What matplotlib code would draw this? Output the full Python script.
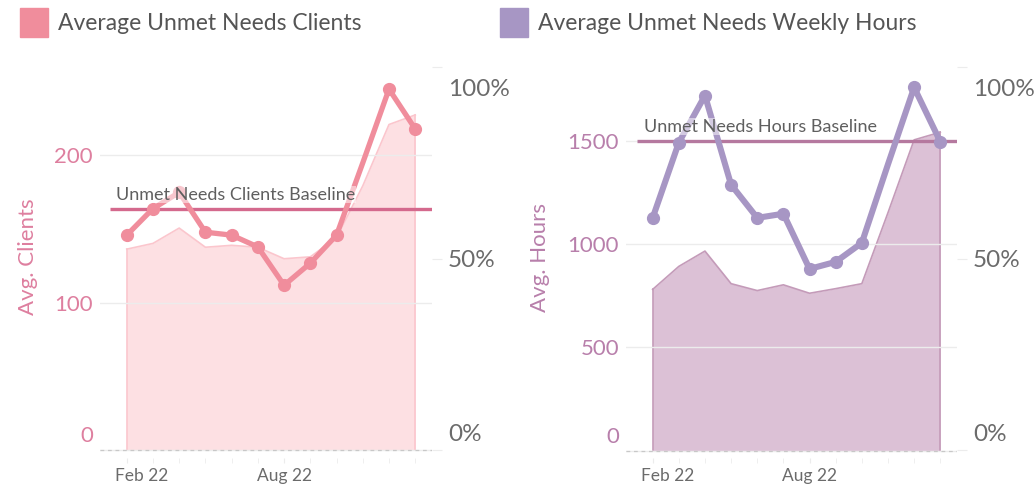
import matplotlib
matplotlib.use("Agg")
import matplotlib.pyplot as plt
import matplotlib.transforms as mtransforms

plt.rcParams['font.family'] = ['Lato', 'DejaVu Sans']

# monthly data, Feb 22 .. Jan 23
months = ['Feb 22', 'Mar 22', 'Apr 22', 'May 22', 'Jun 22', 'Jul 22',
          'Aug 22', 'Sep 22', 'Oct 22', 'Nov 22', 'Dec 22', 'Jan 23']
avg_clients = [146, 164, 175, 148, 146, 138, 112, 127, 146, 195, 245, 218]
clients_pct = [52.5, 54, 58, 53, 53.5, 53, 50, 50.5, 55.5, 69, 85, 87.5]
clients_baseline = 164

avg_hours = [1126, 1490, 1718, 1286, 1126, 1146, 879, 913, 1005, 1385, 1757, 1495]
hours_pct = [42, 48, 52, 43.5, 41.7, 43.2, 41, 42.2, 43.5, 62, 81, 83]
hours_baseline = 1500

W, H = 1036, 492
fig = plt.figure(figsize=(W / 100, H / 100), dpi=100)
fig.patch.set_facecolor('white')

grey = '#6b6b6b'
grid_c = '#ececec'


def px_axes(x0, x1, y0, y1):
    return fig.add_axes([x0 / W, 1 - y1 / H, (x1 - x0) / W, (y1 - y0) / H])


def shift(lbl, dx, dy):
    lbl.set_transform(lbl.get_transform() +
                      mtransforms.ScaledTranslation(dx / 100, dy / 100, fig.dpi_scale_trans))


def panel(x0, x1, title, sq_color, title_x, vals, pct, base, base_label, base_x,
          ylim, yticks, ylab, ylab_x, line_c, area_c, area_edge, base_c, tick_c,
          line_w, area_alpha):
    # header (legend-like)
    fig.patches.append(plt.Rectangle(((title_x - 38) / W, 1 - 37 / H), 28 / W, 29 / H,
                                     transform=fig.transFigure, color=sq_color, zorder=5))
    fig.text(title_x / W, 1 - 23 / H, title, fontsize=16.5, color='#555555', va='center', ha='left')

    ax = px_axes(x0, x1, 67, 458)
    ax2 = ax.twinx()
    ax.set_zorder(ax2.get_zorder() + 1)
    ax.patch.set_visible(False)

    x = list(range(len(months)))
    # area on percent axis
    ax2.fill_between(x, 0, pct, color=area_c, alpha=area_alpha, lw=0)
    ax2.plot(x, pct, color=area_edge, lw=1.2)
    ax2.plot([0, 0], [0, pct[0]], color=area_edge, lw=1.2)
    ax2.plot([x[-1], x[-1]], [0, pct[-1]], color=area_edge, lw=1.2)
    ax2.set_ylim(-1.96, 100)
    ax2.set_yticks([0, 50, 100], labels=['0%', '50%', '100%'])
    ax2.tick_params(axis='y', length=7.5, color=grid_c, labelsize=17.5, labelcolor=grey, pad=4)
    tl = ax2.get_yticklabels()
    tl[0].set_va('bottom')
    shift(tl[0], 0, 5)
    shift(tl[2], 0, -21)

    # main line (no marker in Nov, as in the source)
    marks = [i for i in x if i != 9]
    ax.plot(x, vals, color=line_c, lw=line_w, marker='o', ms=8.5, mec=line_c, mfc=line_c,
            markevery=marks, solid_capstyle='round', solid_joinstyle='round', zorder=4)
    ax.set_ylim(*ylim)
    ax.set_xlim(-1.02, 11.64)
    ax.set_yticks(yticks)
    ax.tick_params(axis='y', length=0, labelsize=16, labelcolor=tick_c, pad=5)
    yl = ax.get_yticklabels()
    yl[0].set_va('bottom')
    shift(yl[0], 0, 4)
    ax.grid(axis='y', color=grid_c, lw=1)
    ax.set_axisbelow(True)
    ax.axhline(0, color='#c8c8c8', lw=0.9, ls=(0, (3, 3)), zorder=1)
    ax.set_ylabel(ylab, fontsize=16, color=tick_c)
    ax.yaxis.set_label_coords((ylab_x - x0) / (x1 - x0), (458 - 257) / 391)

    # baseline
    ax.plot([base_x, ax.get_xlim()[1]], [base, base], color=base_c, lw=2.4, zorder=3,
            solid_capstyle='butt')
    t = ax.text(base_x + 0.25, base, base_label, fontsize=13, color='#5f5f5f', va='bottom',
                ha='left', zorder=5,
                bbox=dict(facecolor='white', alpha=0.5, edgecolor='none', pad=0.5))
    shift(t, 0, 6)

    # x axis
    ax.set_xticks(x, minor=True)
    ax.set_xticks([0, 6], labels=[months[0], months[6]])
    ax.tick_params(axis='x', which='both', length=3.5, color=grid_c, labelsize=12.5,
                   labelcolor=grey, pad=4)
    xl = ax.get_xticklabels()
    shift(xl[0], 15, 0)

    for a in (ax, ax2):
        for s in a.spines.values():
            s.set_visible(False)
    return ax


panel(100, 432, 'Average Unmet Needs Clients', '#f08d9c', 58,
      avg_clients, clients_pct, clients_baseline, 'Unmet Needs Clients Baseline', -0.65,
      (-5.1, 260), [0, 100, 200], 'Avg. Clients', 38,
      '#f08d9c', '#fdd3d8', '#fbc6cd', '#d4698d', '#de7f9f', 3.8, 0.7)

panel(626, 957, 'Average Unmet Needs Weekly Hours', '#a796c4', 538,
      avg_hours, hours_pct, hours_baseline, 'Unmet Needs Hours Baseline', -0.6,
      (-36, 1856), [0, 500, 1000, 1500], 'Avg. Hours', 550,
      '#a796c4', '#c79bbd', '#c49bb9', '#b5799f', '#b87fab', 4.4, 0.62)

fig.savefig('out.png', dpi=100, facecolor='white')
